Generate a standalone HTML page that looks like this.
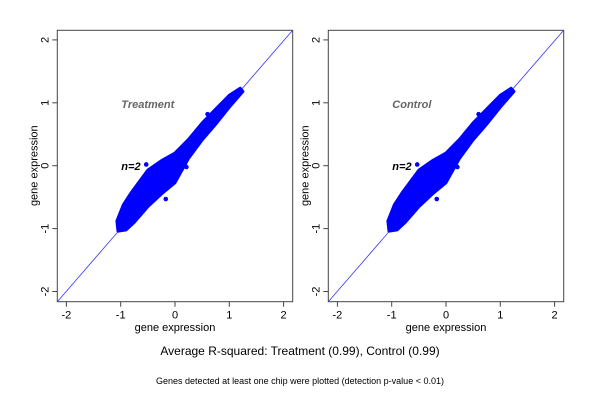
<!DOCTYPE html>
<html><head><meta charset="utf-8"><style>body{margin:0;background:#fff}svg{display:block}text{font-family:"Liberation Sans",sans-serif}</style></head>
<body>
<svg id="s" width="600" height="400" xmlns="http://www.w3.org/2000/svg"></svg>
<script>
var s=document.getElementById('s'),h='';
function panel(x0,label){
 var L=x0,R=x0+235.4,T=30.3,B=301.7;
 var cx=L+117.7,cy=165.7,kx=54.3,ky=62.9;
 function X(v){return cx+v*kx} function Y(v){return cy-v*ky}
 h+='<rect x="'+L+'" y="'+T+'" width="'+(R-L)+'" height="'+(B-T)+'" fill="none" stroke="#444" stroke-width="1"/>';
 h+='<line x1="'+L+'" y1="'+B+'" x2="'+R+'" y2="'+T+'" stroke="#33f" stroke-width="0.8"/>';
 var up=[[-1.07,-0.88],[-0.95,-0.62],[-0.8,-0.42],[-0.5,-0.07],[-0.25,0.08],[0,0.2],[0.25,0.42],[0.5,0.68],[0.75,0.9],[1.0,1.12],[1.2,1.23]];
 var lo=[[1.25,1.18],[1,0.93],[0.75,0.66],[0.5,0.41],[0.25,0.12],[0,-0.27],[-0.25,-0.45],[-0.5,-0.65],[-0.75,-0.9],[-0.9,-1.02],[-1.05,-1.04]];
 var p=up.concat(lo).map(function(a){return X(a[0]).toFixed(1)+','+Y(a[1]).toFixed(1)}).join(' ');
 h+='<polygon points="'+p+'" fill="#00f" stroke="#00f" stroke-width="3" stroke-linejoin="round"/>';
 [[-0.53,0.02],[-0.45,-0.1],[-0.9,-0.6],[0.21,-0.02],[-0.17,-0.53],[0.6,0.82],[-0.05,0.08]].forEach(function(a){h+='<circle cx="'+X(a[0])+'" cy="'+Y(a[1])+'" r="2.3" fill="#00f"/>'});
 for(var i=-2;i<=2;i++){
  h+='<line x1="'+X(i)+'" y1="'+B+'" x2="'+X(i)+'" y2="'+(B+5)+'" stroke="#444"/>';
  h+='<text x="'+X(i)+'" y="'+(B+17)+'" font-size="11" text-anchor="middle">'+i+'</text>';
  h+='<line x1="'+L+'" y1="'+Y(i)+'" x2="'+(L-5)+'" y2="'+Y(i)+'" stroke="#444"/>';
  h+='<text transform="translate('+(L-9)+','+Y(i)+') rotate(-90)" font-size="11" text-anchor="middle">'+i+'</text>';
 }
 h+='<text x="'+(cx)+'" y="331" font-size="11" text-anchor="middle">gene expression</text>';
 h+='<text transform="translate('+(L-20)+','+cy+') rotate(-90)" font-size="11" text-anchor="middle">gene expression</text>';
 h+='<text x="'+(L+64)+'" y="108" font-size="11" font-weight="bold" font-style="italic" fill="#666">'+label+'</text>';
 h+='<text x="'+(L+64)+'" y="170" font-size="11" font-weight="bold" font-style="italic">n=2</text>';
}
panel(57.3,'Treatment');panel(328.3,'Control');
h+='<text x="300" y="355" font-size="12" text-anchor="middle">Average R-squared: Treatment (0.99), Control (0.99)</text>';
h+='<text x="300" y="384" font-size="9" text-anchor="middle">Genes detected at least one chip were plotted (detection p-value &lt; 0.01)</text>';
s.innerHTML=h;
</script>
</body></html>
